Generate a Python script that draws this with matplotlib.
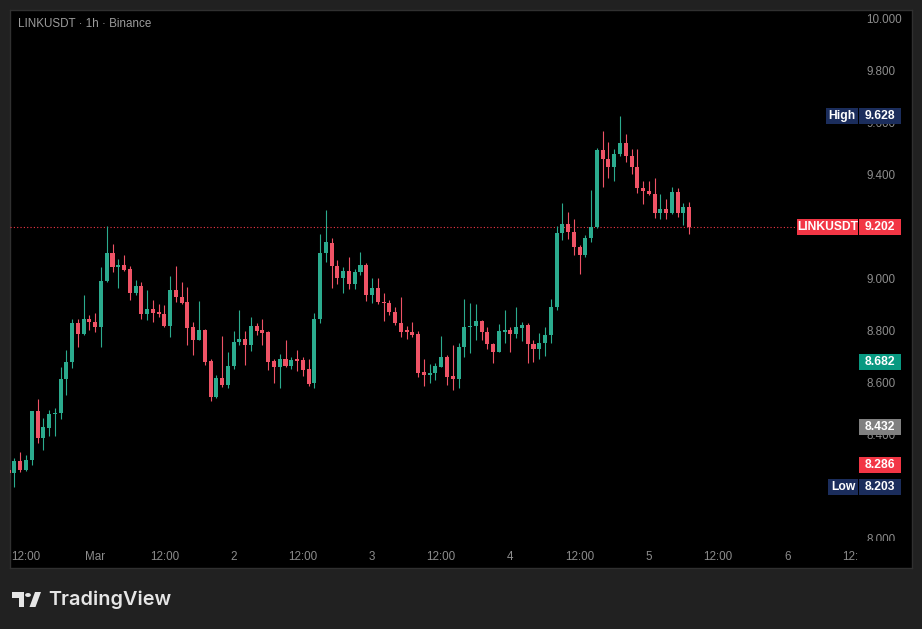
import numpy as np
import pandas as pd
import matplotlib
matplotlib.use("Agg")
import matplotlib.pyplot as plt
import matplotlib.dates as mdates
from matplotlib.patches import Rectangle, Polygon, Circle

# ---------------- data ----------------
symbol_title = "LINKUSDT · 1h · Binance"
first_candle_time = "2025-02-28 09:00"

opens = [8.268, 8.255, 8.304, 8.268, 8.307, 8.495, 8.390, 8.430, 8.483, 8.488,
         8.618, 8.682, 8.835, 8.791, 8.849, 8.839, 8.819, 8.995, 9.101, 9.050,
         9.055, 9.041, 8.948, 8.977, 8.868, 8.887, 8.876, 8.868, 8.822, 8.960,
         8.932, 8.914, 8.819, 8.768, 8.806, 8.689, 8.548, 8.623, 8.595, 8.668,
         8.762, 8.772, 8.749, 8.822, 8.806, 8.800, 8.689, 8.665, 8.695, 8.668,
         8.691, 8.691, 8.657, 8.601, 8.848, 9.101, 9.140, 9.054, 9.008, 9.035,
         8.983, 9.031, 9.057, 8.941, 8.969, 8.915, 8.912, 8.877, 8.832, 8.804,
         8.800, 8.791, 8.644, 8.633, 8.640, 8.665, 8.704, 8.631, 8.618, 8.740,
         8.819, 8.823, 8.841, 8.800, 8.753, 8.723, 8.800, 8.806, 8.791, 8.815,
         8.826, 8.753, 8.733, 8.758, 8.787, 8.896, 9.181, 9.213, 9.185, 9.125,
         9.095, 9.162, 9.204, 9.499, 9.463, 9.435, 9.483, 9.526, 9.476, 9.435,
         9.352, 9.342, 9.330, 9.258, 9.272, 9.258, 9.338, 9.258, 9.281]
highs = [8.272, 8.313, 8.336, 8.326, 8.495, 8.541, 8.467, 8.499, 8.505, 8.665,
         8.730, 8.848, 8.849, 8.941, 8.864, 8.871, 9.050, 9.207, 9.137, 9.080,
         9.095, 9.053, 8.999, 8.991, 8.960, 8.922, 8.907, 8.903, 9.014, 9.053,
         8.991, 8.971, 8.836, 8.918, 8.810, 8.694, 8.633, 8.783, 8.723, 8.803,
         8.883, 8.803, 8.858, 8.835, 8.849, 8.803, 8.694, 8.714, 8.768, 8.702,
         8.730, 8.704, 8.694, 8.871, 9.176, 9.268, 9.159, 9.076, 9.050, 9.086,
         9.040, 9.105, 9.063, 9.005, 9.008, 8.948, 8.922, 8.896, 8.935, 8.822,
         8.837, 8.804, 8.695, 8.676, 8.678, 8.783, 8.710, 8.749, 8.755, 8.926,
         8.909, 8.906, 8.845, 8.817, 8.758, 8.828, 8.883, 8.819, 8.896, 8.839,
         8.835, 8.768, 8.794, 8.817, 8.925, 9.207, 9.294, 9.259, 9.233, 9.133,
         9.172, 9.345, 9.505, 9.572, 9.528, 9.502, 9.628, 9.560, 9.502, 9.502,
         9.380, 9.380, 9.392, 9.330, 9.309, 9.355, 9.352, 9.294, 9.300]
lows = [8.250, 8.203, 8.262, 8.265, 8.287, 8.373, 8.345, 8.399, 8.399, 8.464,
        8.557, 8.662, 8.742, 8.787, 8.806, 8.800, 8.742, 8.990, 9.031, 8.969,
        9.035, 8.922, 8.941, 8.849, 8.845, 8.839, 8.858, 8.819, 8.781, 8.915,
        8.905, 8.749, 8.710, 8.768, 8.672, 8.535, 8.544, 8.588, 8.582, 8.658,
        8.749, 8.672, 8.727, 8.787, 8.749, 8.653, 8.604, 8.585, 8.665, 8.657,
        8.649, 8.631, 8.591, 8.582, 8.832, 9.069, 8.967, 8.982, 8.948, 8.963,
        8.963, 9.018, 8.919, 8.909, 8.905, 8.842, 8.864, 8.826, 8.781, 8.772,
        8.778, 8.627, 8.591, 8.604, 8.614, 8.663, 8.595, 8.576, 8.582, 8.704,
        8.717, 8.768, 8.768, 8.733, 8.678, 8.723, 8.755, 8.723, 8.775, 8.765,
        8.681, 8.685, 8.694, 8.707, 8.758, 8.883, 9.153, 9.155, 9.095, 9.022,
        9.088, 9.144, 9.198, 9.355, 9.390, 9.381, 9.477, 9.454, 9.407, 9.332,
        9.291, 9.326, 9.238, 9.233, 9.232, 9.253, 9.242, 9.210, 9.176]
closes = [8.257, 8.304, 8.268, 8.307, 8.495, 8.390, 8.435, 8.483, 8.488, 8.618,
          8.682, 8.835, 8.791, 8.849, 8.839, 8.819, 8.995, 9.101, 9.050, 9.053,
          9.037, 8.948, 8.976, 8.868, 8.887, 8.871, 8.868, 8.822, 8.960, 8.932,
          8.909, 8.815, 8.768, 8.806, 8.685, 8.548, 8.623, 8.595, 8.668, 8.762,
          8.772, 8.749, 8.822, 8.803, 8.794, 8.685, 8.665, 8.694, 8.668, 8.691,
          8.689, 8.653, 8.598, 8.848, 9.101, 9.146, 9.054, 9.008, 9.035, 8.983,
          9.031, 9.057, 8.941, 8.969, 8.915, 8.911, 8.877, 8.832, 8.800, 8.800,
          8.787, 8.642, 8.633, 8.642, 8.668, 8.704, 8.627, 8.618, 8.740, 8.819,
          8.823, 8.841, 8.800, 8.753, 8.723, 8.803, 8.806, 8.791, 8.819, 8.826,
          8.753, 8.733, 8.758, 8.787, 8.896, 9.181, 9.213, 9.185, 9.125, 9.095,
          9.162, 9.204, 9.499, 9.463, 9.435, 9.483, 9.526, 9.476, 9.435, 9.352,
          9.342, 9.330, 9.258, 9.272, 9.258, 9.338, 9.258, 9.281, 9.202]

price_ticks = [10.0, 9.8, 9.6, 9.4, 9.2, 9.0, 8.8, 8.6, 8.4, 8.2, 8.0]
time_tick_start = "2025-02-28 12:00"
time_tick_labels = ["12:00", "Mar", "12:00", "2", "12:00", "3", "12:00",
                    "4", "12:00", "5", "12:00", "6", "12:00"]

last_label = ("LINKUSDT", 9.202)
high_label = ("High", 9.628)
low_label = ("Low", 8.203)
level_values = [8.682, 8.432, 8.286]
level_colors = ["#089981", "#808080", "#f23645"]

# ---------------- style ----------------
BG = "#212121"
PANEL = "#000000"
UP = "#2bab8e"
DOWN = "#ef5366"
TXT = "#8c8c8c"
NAVY = "#1b2d5c"
FONT = "Liberation Sans"
FS = 8.4

W, H = 922, 629
fig = plt.figure(figsize=(W / 100, H / 100), dpi=100, facecolor=BG)


def rect_px(x0, y0, x1, y1):
    return [x0 / W, 1 - y1 / H, (x1 - x0) / W, (y1 - y0) / H]


# black chart panel as a background axes
ax_bg = fig.add_axes(rect_px(10, 10, 912, 568))
ax_bg.set_facecolor(PANEL)
ax_bg.set_xticks([])
ax_bg.set_yticks([])
for sp in ax_bg.spines.values():
    sp.set_color("#303030")
    sp.set_linewidth(1.0)
ax_bg.set_zorder(-5)

# time helpers
times = pd.date_range(first_candle_time, periods=len(closes), freq="h")
xs = mdates.date2num(times)
hour = 1 / 24
t_ref = mdates.date2num(pd.Timestamp(time_tick_start))
px_per_hour = 5.767
x_left = t_ref - (26 - 10) / px_per_hour * hour
x_right = t_ref + (858 - 26) / px_per_hour * hour

ppu = 260.0  # pixels per price unit
y_top = 9.4 + (175.7 - 10) / ppu
y_bot = 9.4 - (545 - 175.7) / ppu

ax = fig.add_axes(rect_px(10, 10, 858, 545))
ax.set_facecolor("none")
ax.set_xlim(x_left, x_right)
ax.set_ylim(y_bot, y_top)
ax.axis("off")

o = np.array(opens)
c = np.array(closes)
hi = np.array(highs)
lo = np.array(lows)
cols = [UP if cc >= oo else DOWN for oo, cc in zip(o, c)]
ax.vlines(xs, lo, hi, colors=cols, lw=0.8, zorder=2)
body_h = np.where(np.abs(c - o) < 1.2 / ppu, 1.2 / ppu, np.abs(c - o))
ax.bar(xs, body_h, bottom=np.minimum(o, c), width=0.7 * hour,
       color=cols, edgecolor="none", zorder=3)

# last price dotted line
ax.axhline(last_label[1], xmin=0, xmax=(797 - 10) / 848, color="#f23645",
           ls=(0, (1, 2)), lw=0.8, zorder=1)

# time axis strip
ax_t = fig.add_axes(rect_px(10, 545, 858, 568), sharex=ax)
ax_t.set_facecolor("none")
ax_t.axis("off")
ax_t.set_ylim(0, 1)
tick_times = mdates.date2num(pd.date_range(time_tick_start,
                                           periods=len(time_tick_labels),
                                           freq="12h"))
for tx, lbl in zip(tick_times, time_tick_labels):
    ax_t.text(tx, 0.5, lbl, ha="center", va="center", color=TXT,
              fontsize=FS, family=FONT, clip_on=True)

# price scale strip (bottom edge clips the lowest label like the reference)
ax_p = fig.add_axes(rect_px(858, 10, 912, 541))
ax_p.set_facecolor("none")
ax_p.axis("off")
ax_p.set_xlim(0, 54)
ax_p.set_ylim(9.4 - (541 - 175.7) / ppu, y_top)
for p in price_ticks:
    ax_p.text(8, p, f"{p:.3f}", ha="left", va="center", color=TXT,
              fontsize=FS, family=FONT, clip_on=True, zorder=1)

bh = 16 / ppu


def value_box(p, color, text_color="white"):
    ax_p.add_patch(Rectangle((0.5, p - bh / 2), 42.5, bh, facecolor=color,
                             edgecolor="none", clip_on=False, zorder=5))
    ax_p.text(21.7, p, f"{p:.3f}", ha="center", va="center", color=text_color,
              fontsize=FS + 0.3, family=FONT, weight="bold", clip_on=False,
              zorder=6)


def name_box(name, p, color, width):
    ax_p.add_patch(Rectangle((-width, p - bh / 2), width - 0.5, bh,
                             facecolor=color, edgecolor="none",
                             clip_on=False, zorder=5))
    ax_p.text(-width / 2, p, name, ha="center", va="center", color="white",
              fontsize=FS + 0.3, family=FONT, weight="bold", clip_on=False,
              zorder=6)


name_box(high_label[0], high_label[1], NAVY, 32)
value_box(high_label[1], NAVY)
name_box(last_label[0], last_label[1], "#f23645", 61)
value_box(last_label[1], "#f23645")
for v, col in zip(level_values, level_colors):
    value_box(v, col)
name_box(low_label[0], low_label[1], NAVY, 30)
value_box(low_label[1], NAVY)

# title
fig.text(18 / W, 1 - 24 / H, symbol_title, ha="left", va="center",
         color="#9c9c9c", fontsize=FS, family=FONT)

# TradingView logo
LOGO = "#e6e6e6"


def P(x, y):
    return (x / W, 1 - y / H)


fig.patches.append(Polygon([P(12, 592), P(24, 592), P(24, 607), P(18.5, 607),
                            P(18.5, 597.5), P(12, 597.5)], closed=True,
                           transform=fig.transFigure, facecolor=LOGO,
                           edgecolor="none"))
fig.patches.append(Circle(P(28, 595), radius=2.9 / W,
                          transform=fig.transFigure, facecolor=LOGO,
                          edgecolor="none"))
fig.patches.append(Polygon([P(29.5, 607), P(35.5, 607), P(41, 592), P(35, 592)],
                           closed=True, transform=fig.transFigure,
                           facecolor=LOGO, edgecolor="none"))
fig.text(48 / W, 1 - 599.5 / H, "TradingView", ha="left", va="center",
         color=LOGO, fontsize=14.3, family="Inter", weight="semibold")

fig.savefig("out.png", dpi=100, facecolor=BG)
